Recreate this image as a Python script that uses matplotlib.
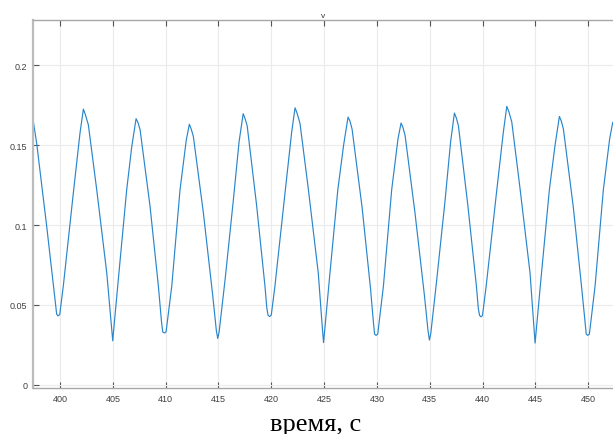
import matplotlib
matplotlib.use("Agg")
import matplotlib.pyplot as plt

# keypoints (time, s / v)
time_s = [
    397.44, 397.79, 398.74, 399.55, 399.68, 399.80, 399.97, 400.31, 401.26, 401.89,
    402.21, 402.40, 402.68, 403.47, 404.42, 404.85, 404.99, 405.10, 405.52, 406.31,
    406.79, 407.20, 407.38, 407.58, 408.52, 409.31, 409.60, 409.72, 409.88, 410.04,
    410.58, 411.36, 411.95, 412.24, 412.42, 412.62, 413.57, 414.46, 414.80, 414.93,
    415.06, 415.63, 416.40, 416.95, 417.34, 417.52, 417.72, 418.60, 419.40, 419.58,
    419.70, 419.85, 420.00, 420.35, 421.30, 421.93, 422.25, 422.44, 422.72, 423.50,
    424.45, 424.82, 424.95, 425.07, 425.50, 426.30, 426.85, 427.27, 427.45, 427.65,
    428.60, 429.40, 429.66, 429.78, 429.92, 430.08, 430.62, 431.40, 432.00, 432.29,
    432.47, 432.67, 433.60, 434.50, 434.84, 434.97, 435.10, 435.67, 436.45, 436.98,
    437.34, 437.52, 437.72, 438.60, 439.42, 439.60, 439.72, 439.86, 440.00, 440.35,
    441.32, 441.97, 442.30, 442.49, 442.77, 443.55, 444.50, 444.86, 444.98, 445.10,
    445.53, 446.33, 446.87, 447.28, 447.46, 447.66, 448.60, 449.40, 449.70, 449.82,
    449.96, 450.12, 450.66, 451.44, 452.04, 452.33, 452.50,
]
v = [
    0.1660, 0.1510, 0.0990, 0.0520, 0.0443, 0.0432, 0.0440, 0.0619, 0.1201, 0.1575,
    0.1725, 0.1690, 0.1627, 0.1222, 0.0703, 0.0380, 0.0276, 0.0360, 0.0661, 0.1220,
    0.1490, 0.1665, 0.1640, 0.1596, 0.1118, 0.0619, 0.0400, 0.0332, 0.0325, 0.0332,
    0.0619, 0.1220, 0.1530, 0.1630, 0.1600, 0.1555, 0.1077, 0.0557, 0.0340, 0.0291,
    0.0330, 0.0660, 0.1150, 0.1520, 0.1696, 0.1665, 0.1620, 0.1130, 0.0620, 0.0480,
    0.0435, 0.0428, 0.0437, 0.0620, 0.1200, 0.1580, 0.1733, 0.1700, 0.1635, 0.1230,
    0.0700, 0.0370, 0.0265, 0.0350, 0.0660, 0.1220, 0.1500, 0.1675, 0.1650, 0.1600,
    0.1110, 0.0600, 0.0400, 0.0318, 0.0310, 0.0318, 0.0620, 0.1220, 0.1540, 0.1638,
    0.1610, 0.1560, 0.1080, 0.0560, 0.0340, 0.0281, 0.0320, 0.0660, 0.1150, 0.1520,
    0.1700, 0.1670, 0.1620, 0.1130, 0.0620, 0.0480, 0.0435, 0.0426, 0.0435, 0.0620,
    0.1200, 0.1580, 0.1742, 0.1710, 0.1645, 0.1230, 0.0700, 0.0370, 0.0262, 0.0350,
    0.0660, 0.1220, 0.1500, 0.1679, 0.1650, 0.1600, 0.1110, 0.0600, 0.0400, 0.0318,
    0.0310, 0.0318, 0.0620, 0.1220, 0.1540, 0.1642, 0.1610,
]
x_ticks = [400, 405, 410, 415, 420, 425, 430, 435, 440, 445, 450]
y_ticks = [0, 0.05, 0.1, 0.15, 0.2]
y_tick_labels = ["0", "0.05", "0.1", "0.15", "0.2"]

W, H = 613, 435
fig = plt.figure(figsize=(W / 100, H / 100), dpi=100)
ax = fig.add_axes([33 / W, 46 / H, 581 / W, 368 / H])

ax.plot(time_s, v, color="#2a86cc", lw=0.85)

ax.set_xlim(397.44, 452.45)
ax.set_ylim(-0.0019, 0.2282)
ax.set_xticks(x_ticks)
ax.set_xticklabels([str(t) for t in x_ticks])
ax.set_yticks(y_ticks)
ax.set_yticklabels(y_tick_labels)

ax.grid(True, color="#ebebeb", lw=0.8)
ax.set_axisbelow(True)

# MATLAB-like box: inward ticks, grey frame, open on the right (cropped)
ax.spines["right"].set_visible(False)
for s in ("top", "bottom"):
    ax.spines[s].set_color("#a8a8a8")
    ax.spines[s].set_linewidth(1.0)
ax.spines["left"].set_color("#bcbcbc")
ax.spines["left"].set_linewidth(1.6)
ax.tick_params(direction="in", length=4, width=0.8, color="#555555",
               labelsize=6.5, labelcolor="#404040", top=True, pad=4)
for lab in ax.get_xticklabels() + ax.get_yticklabels():
    lab.set_family("Liberation Sans")

fig.text(323 / W, 1 - 16.5 / H, "v", ha="center", va="center",
         fontsize=6, color="#333333", family="Liberation Sans")
fig.text(316 / W, 3.5 / H, "время, с", ha="center", va="baseline",
         fontsize=19, color="black", family="Liberation Serif")

fig.savefig("out.png", dpi=100)
